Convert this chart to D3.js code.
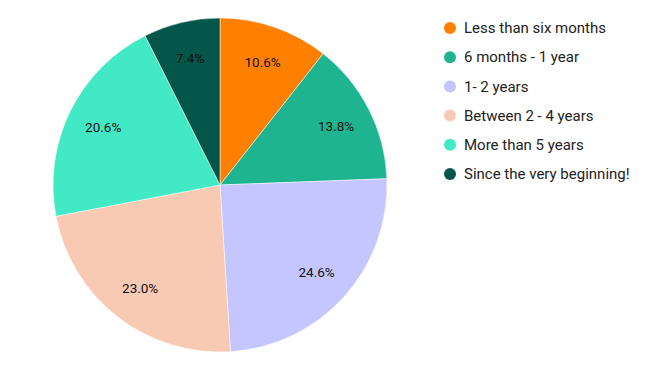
<!DOCTYPE html>
<meta charset="utf-8">
<head lang="en">
    <title></title>
    <script src="https://cdn.jsdelivr.net/npm/d3@7"></script>
    <style>
        body { margin: 0; background: #fff; }
        text { font-family: Roboto, sans-serif; }
        .slice { stroke: #fff; stroke-width: 0.5; }
        .label { font-size: 13.5px; fill: #111; text-anchor: middle; }
        .legend text { font-size: 15px; fill: #222; }
    </style>
</head>
<body>
<script>
    // chart data
    var categories = ["Less than six months", "6 months - 1 year", "1- 2 years",
        "Between 2 - 4 years", "More than 5 years", "Since the very beginning!"];
    var shares = [10.6, 13.8, 24.6, 23.0, 20.6, 7.4];
    var sliceColors = ["#ff7f00", "#1eb48f", "#c5c6ff", "#f8cab3", "#41eac4", "#04564a"];

    var width = 659, height = 371;
    var cx = 220, cy = 185, radius = 167;

    var svg = d3.select("body").append("svg")
        .attr("width", width)
        .attr("height", height);

    var color = d3.scaleOrdinal().domain(categories).range(sliceColors);

    var pie = d3.pie().sort(null).value(function (d) { return d.v; });
    var data = categories.map(function (c, i) { return {name: c, v: shares[i]}; });
    var arcs = pie(data);

    var arc = d3.arc().innerRadius(0).outerRadius(radius);
    var labelArc = d3.arc().innerRadius(radius * 0.78).outerRadius(radius * 0.78);

    var g = svg.append("g").attr("transform", "translate(" + cx + "," + cy + ")");

    g.selectAll(".slice")
        .data(arcs)
        .enter().append("path")
        .attr("class", "slice")
        .attr("d", arc)
        .attr("fill", function (d) { return color(d.data.name); });

    g.selectAll(".label")
        .data(arcs)
        .enter().append("text")
        .attr("class", "label")
        .attr("transform", function (d) { return "translate(" + labelArc.centroid(d) + ")"; })
        .attr("dy", "0.35em")
        .text(function (d) { return d.data.v.toFixed(1) + "%"; });

    // legend
    var legend = svg.append("g").attr("class", "legend")
        .attr("transform", "translate(450,28)");

    var item = legend.selectAll("g")
        .data(categories)
        .enter().append("g")
        .attr("transform", function (d, i) { return "translate(0," + (i * 29.2) + ")"; });

    item.append("circle")
        .attr("r", 6)
        .attr("fill", function (d) { return color(d); });

    item.append("text")
        .attr("x", 14)
        .attr("dy", "0.35em")
        .text(function (d) { return d; });
</script>
</body>
